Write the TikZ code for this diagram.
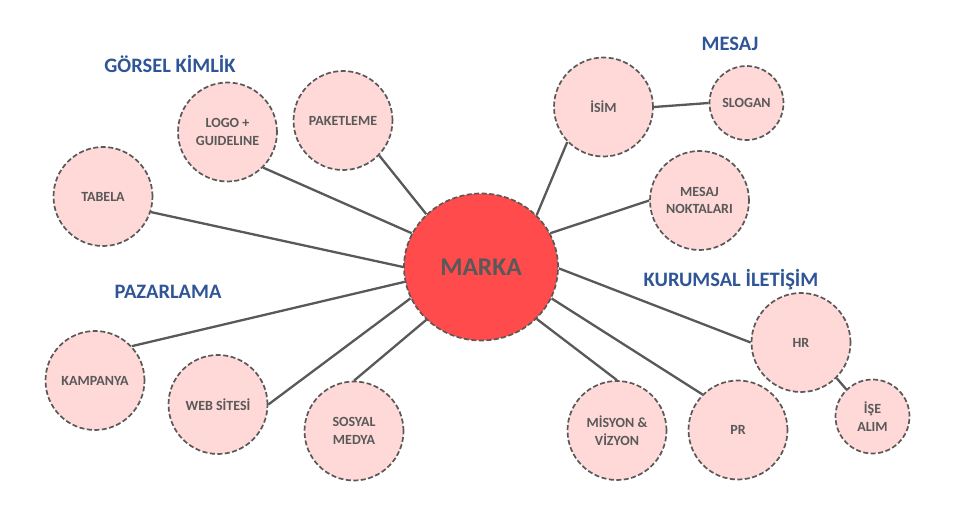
\documentclass[tikz,border=0pt]{standalone}
\usepackage{fontspec}
\setmainfont{Carlito}
\usetikzlibrary{shapes.geometric}
\definecolor{pinkfill}{HTML}{FFD8D8}
\definecolor{redfill}{HTML}{FF4B4B}
\definecolor{edgegray}{HTML}{595959}
\definecolor{titleblue}{HTML}{2F5597}
\tikzset{
  bubble/.style={circle, draw=edgegray, line width=1.7pt, dash pattern=on 5pt off 2.5pt,
    fill=pinkfill, inner sep=0pt, minimum size=99pt, text=edgegray,
    font=\fontsize{14}{17.5}\selectfont\bfseries, align=center},
  smallbubble/.style={bubble, minimum size=74pt},
  hub/.style={ellipse, draw=edgegray, line width=1.7pt, dash pattern=on 5pt off 2.5pt,
    fill=redfill, inner sep=0pt, minimum width=154pt, minimum height=147pt, text=edgegray,
    font=\fontsize{25.5}{30}\selectfont\bfseries},
  grouptitle/.style={text=titleblue, font=\fontsize{20.5}{24}\selectfont\bfseries, inner sep=0pt},
  link/.style={draw=edgegray, line width=2.3pt}
}
\begin{document}
\begin{tikzpicture}[x=1pt,y=-1pt]
\useasboundingbox[fill=white] (0,0) rectangle (962,512);
% titles
\node[grouptitle] (t1) at (170,64) {GÖRSEL KİMLİK};
\node[grouptitle] (t2) at (730,44) {MESAJ};
\node[grouptitle] (t3) at (168,292) {PAZARLAMA};
\node[grouptitle] (t4) at (731,280) {KURUMSAL İLETİŞİM};
% nodes
\node[hub] (marka) at (481,267) {MARKA};
\node[bubble] (logo) at (227.5,132) {LOGO +\\GUIDELINE};
\node[bubble] (paket) at (343,120.5) {PAKETLEME};
\node[bubble] (tabela) at (103,196.5) {TABELA};
\node[bubble] (isim) at (603.5,107) {İSİM};
\node[smallbubble] (slogan) at (746.5,103) {SLOGAN};
\node[bubble] (mn) at (699.5,200.5) {MESAJ\\NOKTALARI};
\node[bubble] (hr) at (801,342.5) {HR};
\node[smallbubble] (ise) at (872.5,416.5) {İŞE\\ALIM};
\node[bubble] (pr) at (738,430) {PR};
\node[bubble] (misyon) at (617,430.5) {MİSYON \&\\VİZYON};
\node[bubble] (kampanya) at (95,380.5) {KAMPANYA};
\node[bubble] (web) at (218,404.5) {WEB SİTESİ};
\node[bubble] (sosyal) at (354,431) {SOSYAL\\MEDYA};
% connectors
\path[link] (tabela.-18) -- (marka.180);
\path[link] (logo.-45) -- (marka.154);
\path[link] (paket.-44) -- (marka.136);
\path[link] (isim.224) -- (marka.43);
\path[link] (isim.0) -- (slogan.180);
\path[link] (mn.180) -- (marka.26);
\path[link] (marka.-1) -- (hr.180);
\path[link] (marka.-24) -- (pr.135);
\path[link] (marka.-43) -- (misyon.90);
\path[link] (hr.-45) -- (ise.134);
\path[link] (kampanya.43) -- (marka.191);
\path[link] (web.0) -- (marka.204.5);
\path[link] (sosyal.90) -- (marka.224);
\end{tikzpicture}
\end{document}
